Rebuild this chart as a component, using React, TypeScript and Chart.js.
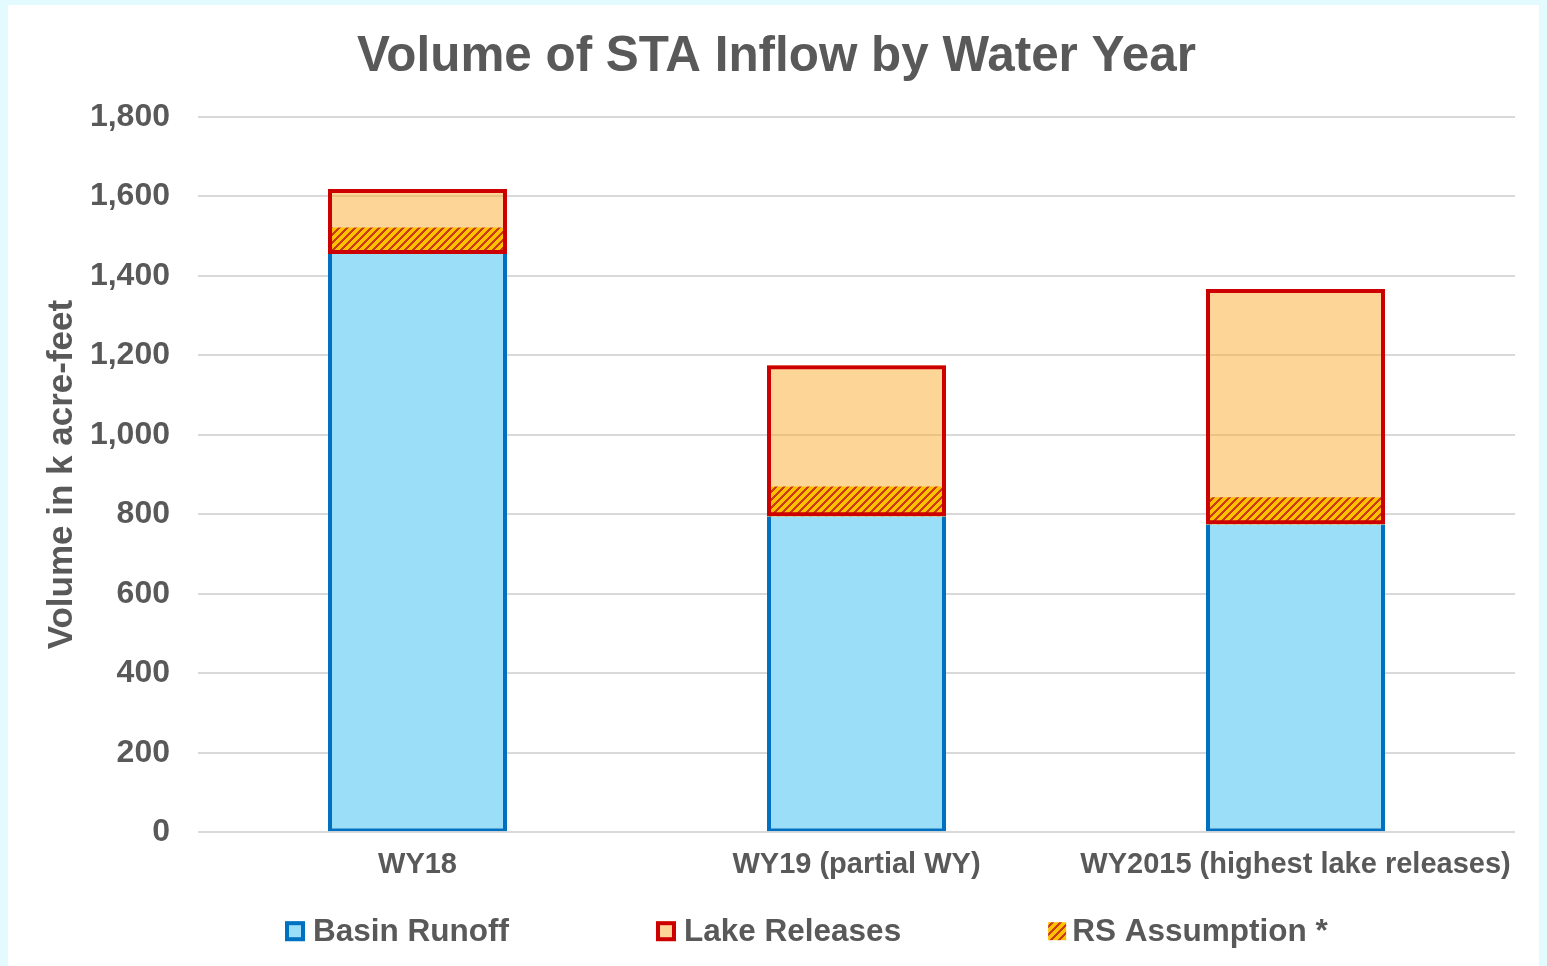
import React, { useEffect, useRef } from 'react';
import { Chart, registerables } from 'chart.js';

Chart.register(...registerables);

const categories = ['WY18', 'WY19 (partial WY)', 'WY2015 (highest lake releases)'];
const basinRunoff = [1455, 795, 775];
const lakeReleases = [164, 380, 592];
const rsAssumption = [67, 75, 68];
const seriesNames = ['Basin Runoff', 'Lake Releases', 'RS Assumption *'];
const chartTitle = 'Volume of STA Inflow by Water Year';
const yTitle = 'Volume in k acre-feet';
const yMin = 0;
const yMax = 1800;
const yStep = 200;

const FONT = '"Liberation Sans", Arial, sans-serif';
const TEXT = '#595959';
const BLUE_FILL = '#9BDEF8';
const BLUE_LINE = '#0070C0';
const PEACH = '#FDD597';
const PEACH_T = 'rgba(251,171,47,0.5)';
const RED = '#CC0000';
const HATCH_BG = '#FFC000';
const HATCH_FG = '#CC3A12';

function makeHatch(): CanvasPattern | string {
  const P = 8;
  const c = document.createElement('canvas');
  c.width = P;
  c.height = P;
  const g = c.getContext('2d');
  if (!g) return HATCH_BG;
  g.fillStyle = HATCH_BG;
  g.fillRect(0, 0, P, P);
  g.fillStyle = HATCH_FG;
  for (let x = 0; x < P; x++) {
    for (let y = 0; y < P; y++) {
      if ((x + y) % P < 3) g.fillRect(x, y, 1, 1);
    }
  }
  const pat = g.createPattern(c, 'repeat');
  return pat || HATCH_BG;
}

export default function App() {
  const ref = useRef<HTMLCanvasElement | null>(null);

  useEffect(() => {
    document.body.style.margin = '5px 8px 0 8px';
    document.body.style.background = '#E3FBFE';
    const canvas = ref.current;
    if (!canvas) return;
    const hatch = makeHatch();

    const legendPlugin = {
      id: 'customLegend',
      afterDraw(chart: any) {
        const ctx = chart.ctx as CanvasRenderingContext2D;
        const area = chart.chartArea;
        const cy = area.bottom + 99;
        let x = area.left + 87;
        ctx.save();
        ctx.font = `bold 31.5px ${FONT}`;
        ctx.textBaseline = 'middle';
        ctx.textAlign = 'left';
        const items = [
          { fill: BLUE_FILL, stroke: BLUE_LINE, size: 20 },
          { fill: PEACH, stroke: RED, size: 20 },
          { fill: hatch, stroke: null, size: 18 },
        ];
        items.forEach((it, i) => {
          const s = it.size;
          ctx.fillStyle = it.fill as any;
          ctx.fillRect(x, cy - s / 2, s, s);
          if (it.stroke) {
            ctx.strokeStyle = it.stroke;
            ctx.lineWidth = 4;
            ctx.strokeRect(x + 2, cy - s / 2 + 2, s - 4, s - 4);
          }
          const tx = x + (i === 2 ? 24 : 28);
          ctx.fillStyle = TEXT;
          ctx.fillText(seriesNames[i], tx, cy + 1);
          const w = ctx.measureText(seriesNames[i]).width;
          x = tx + w + 147;
        });
        ctx.restore();
      },
    };

    const common = {
      grouped: false,
      barPercentage: 0.4077,
      categoryPercentage: 1,
      borderSkipped: false,
    };

    const chart = new Chart(canvas, {
      type: 'bar',
      data: {
        labels: categories,
        datasets: [
          {
            ...common,
            label: seriesNames[1],
            data: categories.map((_, i) => [basinRunoff[i], basinRunoff[i] + lakeReleases[i]]),
            backgroundColor: 'rgba(0,0,0,0)',
            borderColor: RED,
            borderWidth: 4,
            order: 0,
          },
          {
            ...common,
            label: seriesNames[2],
            data: categories.map((_, i) => [basinRunoff[i], basinRunoff[i] + rsAssumption[i]]),
            backgroundColor: hatch as any,
            borderWidth: 0,
            order: 1,
          },
          {
            ...common,
            label: seriesNames[1] + ' fill',
            data: categories.map((_, i) => [basinRunoff[i], basinRunoff[i] + lakeReleases[i]]),
            backgroundColor: PEACH_T,
            borderWidth: 0,
            order: 2,
          },
          {
            ...common,
            label: seriesNames[0],
            data: categories.map((_, i) => [0, basinRunoff[i]]),
            backgroundColor: BLUE_FILL,
            borderColor: BLUE_LINE,
            borderWidth: { left: 4, right: 4, top: 0, bottom: 3 },
            order: 3,
          },
        ] as any,
      },
      options: {
        responsive: false,
        animation: false,
        layout: { padding: { left: 30, right: 24, top: 0, bottom: 77 } },
        plugins: {
          legend: { display: false },
          tooltip: { enabled: false },
          title: {
            display: true,
            text: chartTitle,
            color: TEXT,
            font: { family: FONT, size: 49.4, weight: 'bold' },
            padding: { top: 23, bottom: 29.7 },
          },
        },
        scales: {
          x: {
            grid: { display: false },
            border: { display: false },
            ticks: {
              color: TEXT,
              font: { family: FONT, size: 29, weight: 'bold' },
              padding: 7,
              maxRotation: 0,
              autoSkip: false,
            },
          },
          y: {
            min: yMin,
            max: yMax,
            border: { display: false },
            grid: { color: '#D9D9D9', lineWidth: 2, drawTicks: false },
            ticks: {
              stepSize: yStep,
              color: TEXT,
              font: { family: FONT, size: 32, weight: 'bold' },
              padding: 28,
              callback: (v: any) => Number(v).toLocaleString('en-US'),
            },
            title: {
              display: true,
              text: yTitle,
              color: TEXT,
              font: { family: FONT, size: 35, weight: 'bold' },
              padding: { top: 3, bottom: 0 },
            },
            afterFit: (s: any) => {
              s.width = 160;
            },
          },
        },
      },
      plugins: [legendPlugin],
    });
    return () => chart.destroy();
  }, []);

  return (
    <div style={{ width: 1531, height: 961, background: '#FFFFFF' }}>
      <canvas ref={ref} width={1531} height={961} style={{ display: 'block' }} />
    </div>
  );
}
